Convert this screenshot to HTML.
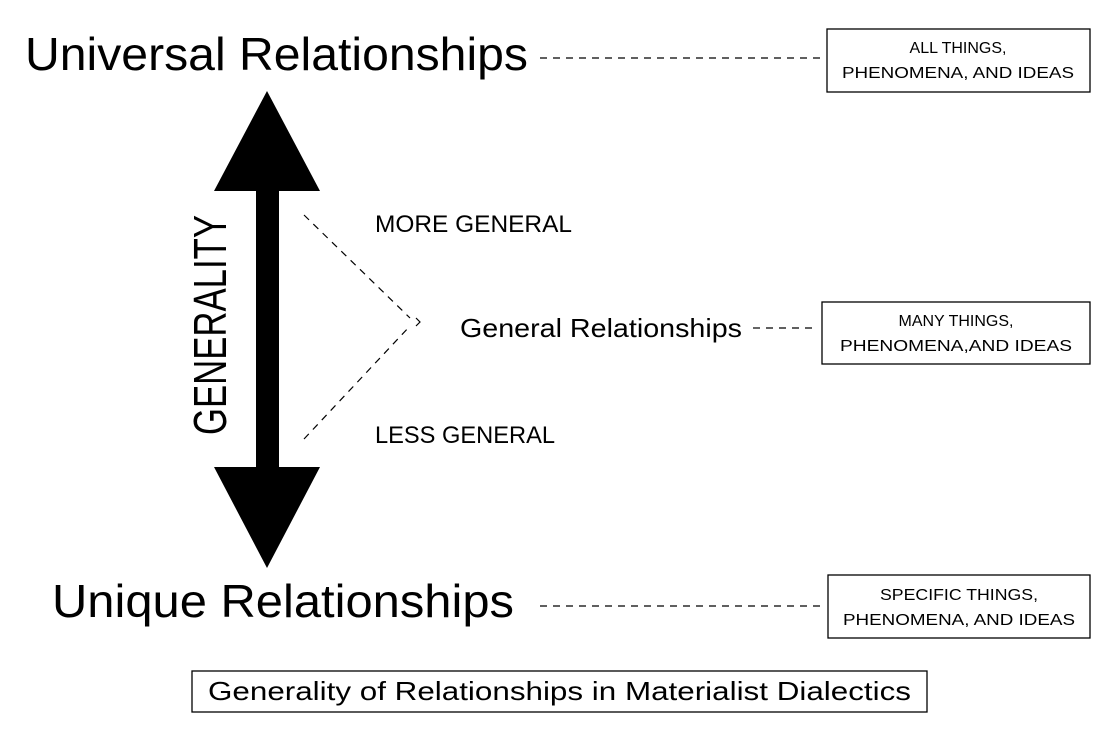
<!DOCTYPE html>
<html><head><meta charset="utf-8"><style>
html,body{margin:0;padding:0;background:#fff;width:1118px;height:736px;overflow:hidden}
svg{display:block}
text{font-family:"Liberation Sans",sans-serif;fill:#000}
</style></head><body>
<svg width="1118" height="736" viewBox="0 0 1118 736" xmlns="http://www.w3.org/2000/svg">
<rect width="1118" height="736" fill="#fff"/>
<text x="25" y="70" font-size="46" textLength="503" lengthAdjust="spacingAndGlyphs">Universal Relationships</text>
<text x="52" y="617" font-size="46" textLength="462" lengthAdjust="spacingAndGlyphs">Unique Relationships</text>
<g stroke="#000" stroke-width="1.2" stroke-dasharray="7,6" fill="none">
<line x1="540" y1="58" x2="822" y2="58"/>
<line x1="753" y1="328" x2="818" y2="328"/>
<line x1="540" y1="606" x2="822" y2="606"/>
<line x1="304" y1="215" x2="410" y2="318"/>
<line x1="304" y1="439" x2="410" y2="326"/>
</g>
<polyline points="416,318 420,322 416,326" stroke="#000" stroke-width="1.2" fill="none"/>
<polygon points="267,91 320,191 279,191 279,467 320,467 267,568 214,467 256,467 256,191 214,191" fill="#000"/>
<text transform="translate(226,435) rotate(-90)" font-size="46" textLength="220" lengthAdjust="spacingAndGlyphs">GENERALITY</text>
<text x="375" y="232" font-size="24" textLength="197" lengthAdjust="spacingAndGlyphs">MORE GENERAL</text>
<text x="375" y="443" font-size="24" textLength="180" lengthAdjust="spacingAndGlyphs">LESS GENERAL</text>
<text x="460" y="337" font-size="26" textLength="282" lengthAdjust="spacingAndGlyphs">General Relationships</text>
<g fill="none" stroke="#000" stroke-width="1.3">
<rect x="827" y="29" width="263" height="63"/>
<rect x="822" y="302" width="268" height="62"/>
<rect x="828" y="575" width="262" height="63"/>
<rect x="192" y="671" width="735" height="41"/>
</g>
<g font-size="16" text-anchor="middle">
<text x="958" y="53">ALL THINGS,</text>
<text x="958" y="78" textLength="232" lengthAdjust="spacingAndGlyphs">PHENOMENA, AND IDEAS</text>
<text x="956" y="326">MANY THINGS,</text>
<text x="956" y="351" textLength="232" lengthAdjust="spacingAndGlyphs">PHENOMENA,AND IDEAS</text>
<text x="959" y="600" textLength="158" lengthAdjust="spacingAndGlyphs">SPECIFIC THINGS,</text>
<text x="959" y="625" textLength="232" lengthAdjust="spacingAndGlyphs">PHENOMENA, AND IDEAS</text>
</g>
<text x="208" y="700" font-size="26" textLength="703" lengthAdjust="spacingAndGlyphs">Generality of Relationships in Materialist Dialectics</text>
</svg>
</body></html>
